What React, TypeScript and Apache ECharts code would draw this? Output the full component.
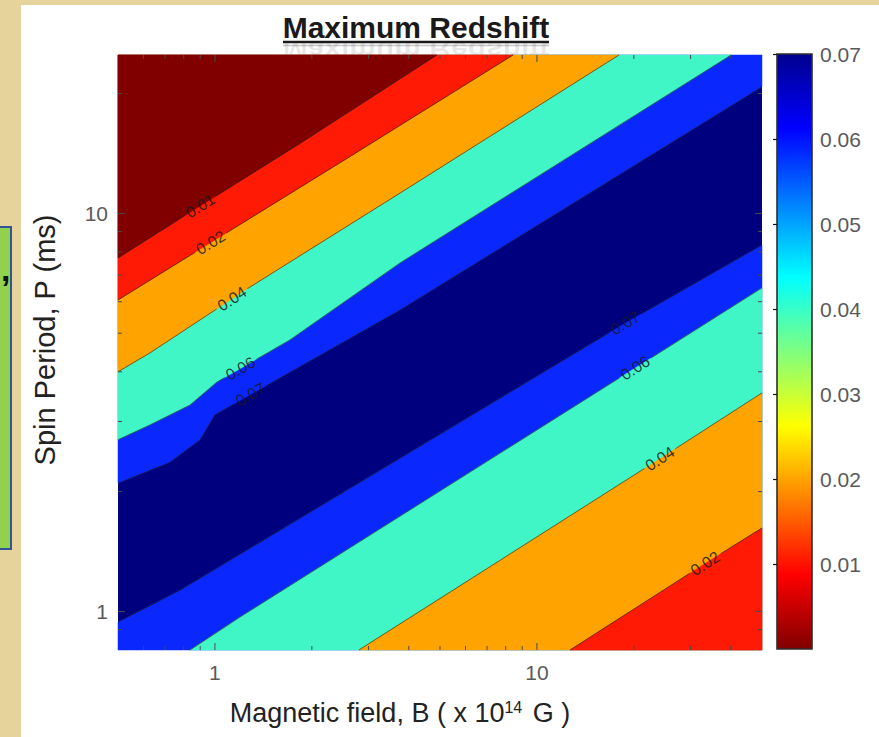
import React, { useEffect, useRef } from "react";
import * as echarts from "echarts";

type Pt = [number, number];

const FONT = "'Liberation Sans', Arial, Helvetica, sans-serif";

// Axis ranges: magnetic field B (x 10^14 G) and spin period P (ms)
const B_RANGE: Pt = [0.5, 50];
const P_RANGE: Pt = [0.8, 25];

// Tick positions (log decades with minor ticks)
const B_TICKS = [0.6, 0.7, 0.8, 0.9, 1, 2, 3, 4, 5, 6, 7, 8, 9, 10, 20, 30, 40];
const P_TICKS = [0.9, 1, 2, 3, 4, 5, 6, 7, 8, 9, 10, 20];
const MAJOR_TICKS = [1, 10];

// Contour levels of the maximum redshift and fill colour of each band
const LEVELS = [0.01, 0.02, 0.04, 0.06, 0.07];
const BAND_COLORS = ["#800000", "#ff1a05", "#ffa300", "#40f6c6", "#0a28fd", "#00007e"]; // <0.01 ... >0.07

// Colour bar
const CBAR_RANGE: Pt = [0, 0.07];
const CBAR_STOPS: [number, string][] = [
  [0, "#00008f"],
  [0.125, "#0000ff"],
  [0.375, "#00ffff"],
  [0.625, "#ffff00"],
  [0.875, "#ff0000"],
  [1, "#800000"],
];

// Contour lines, points as [B, P]
// slow-spin side (upper left): redshift decreases towards the top-left corner
const UPPER_007: Pt[] = [[0.5, 2.1], [0.725, 2.37], [0.899, 2.7], [1.0, 3.12], [1.285, 3.5], [3.76, 5.72], [50, 20.8]];
const UPPER_006: Pt[] = [[0.5, 2.7], [0.628, 2.94], [0.837, 3.3], [1.015, 3.77], [1.71, 4.81], [3.76, 7.51], [40.1, 25]];
const UPPER_004: Pt[] = [[0.5, 4.0], [0.628, 4.46], [1.285, 6.53], [3.76, 11.25], [17.98, 25]];
const UPPER_002: Pt[] = [[0.5, 6.06], [0.965, 8.42], [2.63, 13.9], [8.43, 25]];
const UPPER_001: Pt[] = [[0.5, 7.73], [0.899, 10.44], [1.84, 15.0], [4.89, 25]];
// fast-spin side (lower right): redshift decreases towards the bottom-right corner
const LOWER_007: Pt[] = [[0.5, 0.94], [0.779, 1.13], [18.8, 5.3], [50, 8.33]];
const LOWER_006: Pt[] = [[0.837, 0.8], [1.196, 0.968], [20.2, 4.09], [50, 6.5]];
const LOWER_004: Pt[] = [[2.8, 0.8], [24.1, 2.42], [50, 3.54]];
const LOWER_002: Pt[] = [[12.67, 0.8], [33.3, 1.32], [50, 1.62]];

interface Contour {
  level: number;
  side: "upper" | "lower";
  points: Pt[];
  labelB: number;
}

// Painter order: bands further from the ridge are drawn later, on top
const CONTOURS: Contour[] = [
  { level: 0.07, side: "upper", points: UPPER_007, labelB: 1.29 },
  { level: 0.06, side: "upper", points: UPPER_006, labelB: 1.2 },
  { level: 0.04, side: "upper", points: UPPER_004, labelB: 1.13 },
  { level: 0.02, side: "upper", points: UPPER_002, labelB: 0.97 },
  { level: 0.01, side: "upper", points: UPPER_001, labelB: 0.9 },
  { level: 0.07, side: "lower", points: LOWER_007, labelB: 18.8 },
  { level: 0.06, side: "lower", points: LOWER_006, labelB: 20.2 },
  { level: 0.04, side: "lower", points: LOWER_004, labelB: 24.1 },
  { level: 0.02, side: "lower", points: LOWER_002, labelB: 33.3 },
];

function closeRegion(c: Contour): Pt[] {
  const pts = c.points.slice();
  const [bMin, bMax] = B_RANGE;
  const [pMin, pMax] = P_RANGE;
  const first = pts[0];
  const last = pts[pts.length - 1];
  if (c.side === "upper") {
    if (last[0] >= bMax) pts.push([bMax, pMax]);
    pts.push([bMin, pMax]);
  } else {
    pts.push([bMax, pMin]);
    if (first[0] <= bMin) pts.push([bMin, pMin]);
  }
  return pts;
}

function segmentAt(points: Pt[], b: number): number {
  for (let i = 0; i < points.length - 1; i++) {
    if (b >= points[i][0] && b <= points[i + 1][0]) return i;
  }
  return points.length - 2;
}

function pAt(points: Pt[], b: number): number {
  const i = segmentAt(points, b);
  const [b0, p0] = points[i];
  const [b1, p1] = points[i + 1];
  const t = (Math.log10(b) - Math.log10(b0)) / (Math.log10(b1) - Math.log10(b0));
  return Math.pow(10, Math.log10(p0) + t * (Math.log10(p1) - Math.log10(p0)));
}

// Split a pixel polyline into two pieces leaving a gap of `gap` px around the label point
function cutAround(px: number[][], si: number, at: number[], gap: number): number[][][] {
  const cum: number[] = [0];
  for (let i = 1; i < px.length; i++) {
    cum.push(cum[i - 1] + Math.hypot(px[i][0] - px[i - 1][0], px[i][1] - px[i - 1][1]));
  }
  const sL = cum[si] + Math.hypot(at[0] - px[si][0], at[1] - px[si][1]);
  const pointAt = (s: number) => {
    for (let i = 1; i < px.length; i++) {
      if (s <= cum[i]) {
        const t = (s - cum[i - 1]) / (cum[i] - cum[i - 1] || 1);
        return [px[i - 1][0] + t * (px[i][0] - px[i - 1][0]), px[i - 1][1] + t * (px[i][1] - px[i - 1][1])];
      }
    }
    return px[px.length - 1];
  };
  const s0 = sL - gap / 2;
  const s1 = sL + gap / 2;
  const a: number[][] = [];
  const b: number[][] = [];
  for (let i = 0; i < px.length; i++) if (cum[i] < s0) a.push(px[i]);
  a.push(pointAt(s0));
  b.push(pointAt(s1));
  for (let i = 0; i < px.length; i++) if (cum[i] > s1) b.push(px[i]);
  return [a, b];
}

export default function App() {
  const ref = useRef<HTMLDivElement>(null);

  useEffect(() => {
    if (!ref.current) return;
    const chart = echarts.init(ref.current, undefined, { renderer: "svg" });

    const fillSeries = {
      type: "custom",
      coordinateSystem: "cartesian2d",
      xAxisIndex: 0,
      yAxisIndex: 0,
      z: 2,
      silent: true,
      data: [null, ...CONTOURS].map(() => [1, 1]),
      encode: { x: 0, y: 1 },
      renderItem: (params: any, api: any) => {
        const i = params.dataIndex;
        if (i === 0) {
          const a = api.coord([B_RANGE[0], P_RANGE[1]]);
          const b = api.coord([B_RANGE[1], P_RANGE[0]]);
          return {
            type: "rect",
            shape: { x: a[0], y: a[1], width: b[0] - a[0], height: b[1] - a[1] },
            style: { fill: BAND_COLORS[LEVELS.length] },
          };
        }
        const c = CONTOURS[i - 1];
        const color = BAND_COLORS[LEVELS.indexOf(c.level)];
        const pts = closeRegion(c).map((p) => api.coord(p));
        return {
          type: "polygon",
          shape: { points: pts },
          style: { fill: color, stroke: color, lineWidth: 0.5 },
        };
      },
    };

    const LABEL_SIZE = 16;

    const lineSeries = {
      type: "custom",
      coordinateSystem: "cartesian2d",
      xAxisIndex: 0,
      yAxisIndex: 0,
      z: 3,
      silent: true,
      data: CONTOURS.map(() => [1, 1]),
      encode: { x: 0, y: 1 },
      renderItem: (params: any, api: any) => {
        const c = CONTOURS[params.dataIndex];
        const px = c.points.map((p) => api.coord(p));
        const si = segmentAt(c.points, c.labelB);
        const d0 = px[si];
        const d1 = px[si + 1];
        const angle = Math.atan2(-(d1[1] - d0[1]), d1[0] - d0[0]);
        const at = api.coord([c.labelB, pAt(c.points, c.labelB)]);
        const [pa, pb] = cutAround(px, si, at, LABEL_SIZE * 2.3);
        const lineStyle = { stroke: "rgba(30,30,30,0.75)", lineWidth: 0.8, fill: "none" };
        return {
          type: "group",
          children: [
            { type: "polyline", shape: { points: pa }, style: lineStyle },
            { type: "polyline", shape: { points: pb }, style: lineStyle },
            {
              type: "text",
              x: at[0],
              y: at[1],
              rotation: angle,
              style: {
                text: c.level.toFixed(2),
                align: "center",
                verticalAlign: "middle",
                fontFamily: FONT,
                fontSize: LABEL_SIZE,
                fill: "#1a1a1a",
                opacity: 0.85,
              },
            },
          ],
        };
      },
    };

    const tickLen = (v: number) => (MAJOR_TICKS.includes(v) ? 7 : 4);

    const bTickSeries = {
      type: "custom",
      coordinateSystem: "cartesian2d",
      xAxisIndex: 0,
      yAxisIndex: 0,
      z: 4,
      silent: true,
      data: B_TICKS.map((v) => [v, 1]),
      encode: { x: 0, y: 1 },
      renderItem: (params: any, api: any) => {
        const v = B_TICKS[params.dataIndex];
        const bot = api.coord([v, P_RANGE[0]]);
        const top = api.coord([v, P_RANGE[1]]);
        const L = tickLen(v);
        const style = { stroke: "#4a4a4a", lineWidth: 1 };
        return {
          type: "group",
          children: [
            { type: "line", shape: { x1: bot[0], y1: bot[1], x2: bot[0], y2: bot[1] - L }, style },
            { type: "line", shape: { x1: top[0], y1: top[1], x2: top[0], y2: top[1] + L }, style },
          ],
        };
      },
    };

    const pTickSeries = {
      type: "custom",
      coordinateSystem: "cartesian2d",
      xAxisIndex: 0,
      yAxisIndex: 0,
      z: 4,
      silent: true,
      data: P_TICKS.map((v) => [1, v]),
      encode: { x: 0, y: 1 },
      renderItem: (params: any, api: any) => {
        const v = P_TICKS[params.dataIndex];
        const l = api.coord([B_RANGE[0], v]);
        const r = api.coord([B_RANGE[1], v]);
        const L = tickLen(v);
        const style = { stroke: "#4a4a4a", lineWidth: 1 };
        return {
          type: "group",
          children: [
            { type: "line", shape: { x1: l[0], y1: l[1], x2: l[0] + L, y2: l[1] }, style },
            { type: "line", shape: { x1: r[0], y1: r[1], x2: r[0] - L, y2: r[1] }, style },
          ],
        };
      },
    };

    const colorBarSeries = {
      type: "custom",
      coordinateSystem: "cartesian2d",
      xAxisIndex: 1,
      yAxisIndex: 1,
      z: 2,
      silent: true,
      data: [[0.5, 0.035]],
      encode: { x: 0, y: 1 },
      renderItem: (_params: any, api: any) => {
        const a = api.coord([0, CBAR_RANGE[1]]);
        const b = api.coord([1, CBAR_RANGE[0]]);
        return {
          type: "rect",
          shape: { x: a[0], y: a[1], width: b[0] - a[0], height: b[1] - a[1] },
          style: {
            fill: new echarts.graphic.LinearGradient(
              0, 0, 0, 1,
              CBAR_STOPS.map(([offset, color]) => ({ offset, color }))
            ),
            stroke: "#2e2e2e",
            lineWidth: 1.6,
          },
        };
      },
    };

    const axisLabel = {
      fontFamily: FONT,
      fontSize: 21,
      color: "#5a5a5a",
      showMinLabel: false,
      showMaxLabel: false,
    };

    const option = {
      animation: false,
      backgroundColor: "#ffffff",
      grid: [
        { left: 118, top: 55, width: 644, height: 595, containLabel: false },
        { left: 777, top: 54, width: 35, height: 595, containLabel: false },
      ],
      xAxis: [
        {
          type: "log",
          logBase: 10,
          min: B_RANGE[0],
          max: B_RANGE[1],
          gridIndex: 0,
          axisLine: { show: false },
          axisTick: { show: false },
          splitLine: { show: false },
          axisLabel: { ...axisLabel, margin: 12 },
        },
        { type: "value", min: 0, max: 1, gridIndex: 1, show: false },
      ],
      yAxis: [
        {
          type: "log",
          logBase: 10,
          min: P_RANGE[0],
          max: P_RANGE[1],
          gridIndex: 0,
          axisLine: { show: false },
          axisTick: { show: false },
          splitLine: { show: false },
          axisLabel: { ...axisLabel, margin: 10 },
        },
        {
          type: "value",
          min: CBAR_RANGE[0],
          max: CBAR_RANGE[1],
          interval: 0.01,
          gridIndex: 1,
          position: "right",
          z: 10,
          axisLine: { show: false },
          axisTick: { show: true, inside: true, length: 4, lineStyle: { color: "#111", width: 1.2 } },
          splitLine: { show: false },
          axisLabel: {
            fontFamily: FONT,
            fontSize: 21,
            color: "#5a5a5a",
            margin: 8,
            showMinLabel: false,
            formatter: (v: number) => v.toFixed(2),
          },
        },
      ],
      graphic: [
        // parchment border strips and the neighbouring note box
        { type: "rect", z: 0, shape: { x: 0, y: 0, width: 21, height: 737 }, style: { fill: "#e6d29b" } },
        { type: "rect", z: 0, shape: { x: 0, y: 0, width: 879, height: 5 }, style: { fill: "#e6d29b" } },
        { type: "rect", z: 1, shape: { x: -6, y: 227, width: 17, height: 322 }, style: { fill: "#92d050", stroke: "#2f5597", lineWidth: 2 } },
        { type: "text", z: 1, x: 1, y: 252, style: { text: ",", fontFamily: FONT, fontSize: 34, fontWeight: "bold", fill: "#111" } },
        // faint mirrored title just above the plot
        {
          type: "text",
          z: 0,
          x: 416,
          y: 50,
          scaleY: -0.8,
          style: { text: "Maximum Redshift", align: "center", verticalAlign: "middle", fontFamily: FONT, fontSize: 30, fontWeight: "bold", fill: "rgba(0,0,0,0.09)" },
        },
        // title with underline
        {
          type: "text",
          z: 1,
          x: 416,
          y: 27,
          style: { text: "Maximum Redshift", align: "center", verticalAlign: "middle", fontFamily: FONT, fontSize: 30, fontWeight: "bold", fill: "#1a1a1a" },
        },
        { type: "line", z: 1, shape: { x1: 283, y1: 42, x2: 549, y2: 42 }, style: { stroke: "#1a1a1a", lineWidth: 2.5 } },
        { type: "line", z: 1, shape: { x1: 283, y1: 45.5, x2: 549, y2: 45.5 }, style: { stroke: "rgba(0,0,0,0.22)", lineWidth: 1.5 } },
        // axis names
        {
          type: "text",
          z: 1,
          x: 400,
          y: 713,
          style: {
            text: "Magnetic field, B ( x 10{sup|14} G )",
            align: "center",
            verticalAlign: "middle",
            fontFamily: FONT,
            fontSize: 27,
            fill: "#222",
            rich: { sup: { fontFamily: FONT, fontSize: 16, fill: "#222", verticalAlign: "top", padding: [0, 3, 12, 0] } },
          },
        },
        {
          type: "text",
          z: 1,
          x: 45,
          y: 340,
          rotation: Math.PI / 2,
          style: { text: "Spin Period, P (ms)", align: "center", verticalAlign: "middle", fontFamily: FONT, fontSize: 29, fill: "#222" },
        },
      ],
      series: [fillSeries, lineSeries, bTickSeries, pTickSeries, colorBarSeries],
    };

    chart.setOption(option as any);
    return () => chart.dispose();
  }, []);

  return (
    <div
      ref={ref}
      style={{ position: "absolute", left: 0, top: 0, width: 879, height: 737, background: "#ffffff" }}
    />
  );
}
